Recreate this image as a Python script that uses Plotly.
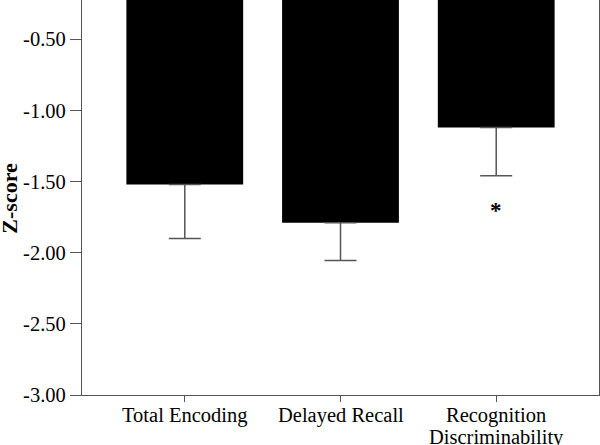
import plotly.graph_objects as go

categories = ["Total Encoding", "Delayed Recall", "Recognition<br>Discriminability"]
means = [-1.52, -1.79, -1.12]
errors = [0.38, 0.265, 0.34]
y_ticks = [-3.0, -2.5, -2.0, -1.5, -1.0, -0.5]
y_tick_labels = ["-3.00", "-2.50", "-2.00", "-1.50", "-1.00", "-0.50"]
y_title = "Z-score"
star_category = "Recognition<br>Discriminability"
star_y = -1.70

FONT = "Liberation Serif"

fig = go.Figure()
fig.add_trace(go.Bar(
    x=categories, y=means,
    marker=dict(color="black", line=dict(width=0)),
    width=0.75,
    error_y=dict(type="data", symmetric=False, array=[0, 0, 0], arrayminus=errors,
                 color="#555555", thickness=1.5, width=16),
))
fig.add_annotation(x=star_category, y=star_y, text="<b>*</b>", showarrow=False,
                   font=dict(size=23, color="black", family=FONT))
for c in categories:
    for i, line in enumerate(c.split("<br>")):
        fig.add_annotation(x=c, y=0, yref="paper", yanchor="top", yshift=-7 - 22 * i,
                           text=line, showarrow=False, align="center",
                           font=dict(size=20.5, color="black", family=FONT))
fig.add_annotation(x=0, xref="paper", y=-1.62, yref="y", xanchor="center", yanchor="middle",
                   xshift=-72, textangle=-90, text="<b>" + y_title + "</b>", showarrow=False,
                   font=dict(size=22, color="black", family=FONT))

fig.update_layout(
    width=600, height=445,
    margin=dict(l=82, r=1, t=0, b=50, autoexpand=False),
    plot_bgcolor="white", paper_bgcolor="white",
    font=dict(family=FONT, size=20.5, color="black"),
    showlegend=False,
    xaxis=dict(range=[-0.66, 2.66], showline=True, linecolor="#555555", linewidth=1.2,
               ticks="outside", ticklen=6, tickcolor="#555555", tickwidth=1.2,
               showticklabels=False,
               showgrid=False, zeroline=False, automargin=False),
    yaxis=dict(range=[-3.0, -0.224], showline=True, mirror=True, linecolor="#555555", linewidth=1.2,
               ticks="outside", ticklen=11, tickcolor="#555555", tickwidth=1.2,
               tickvals=y_ticks, ticktext=y_tick_labels, showgrid=False, zeroline=False,
               tickfont=dict(size=20.5), automargin=False),
)
fig.write_html("out.html", config={"displayModeBar": False},
               post_script="document.body.style.margin='0';")
